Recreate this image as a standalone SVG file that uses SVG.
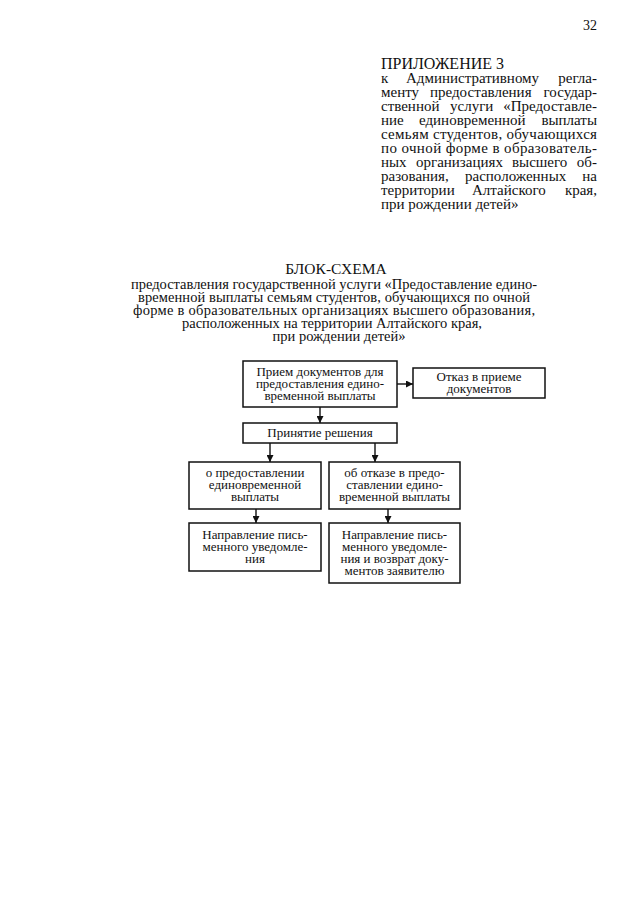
<svg xmlns="http://www.w3.org/2000/svg" width="640" height="905" viewBox="0 0 640 905">
<defs>
<style>
text{font-family:"Liberation Serif","Times New Roman",serif;fill:#111}
.hd{font-size:15px}
.tt{font-size:14.5px;text-anchor:middle}
.bx{font-size:13px;text-anchor:middle}
.box{fill:#fff;stroke:#111;stroke-width:1.5}
.ln{stroke:#111;stroke-width:1.4;fill:none}
</style>
<marker id="ah" viewBox="0 0 8 8" refX="8" refY="4" markerWidth="7" markerHeight="7" markerUnits="userSpaceOnUse" orient="auto">
<path d="M0,0 L8,4 L0,8 Z" fill="#111"/>
</marker>
</defs>
<rect width="640" height="905" fill="#fff"/>

<g id="header">
<text x="597" y="30" class="hd" style="font-size:14px" text-anchor="end">32</text>
<text x="381" y="69" class="hd" style="font-size:16px">ПРИЛОЖЕНИЕ 3</text>
<text x="381" y="83" class="hd">к</text>
<text x="406" y="83" class="hd">Административному</text>
<text x="597" y="83" class="hd" text-anchor="end">регла-</text>
<text x="381" y="97" class="hd">менту</text>
<text x="430" y="97" class="hd">предоставления</text>
<text x="597" y="97" class="hd" text-anchor="end">государ-</text>
<text x="381" y="111" class="hd">ственной</text>
<text x="450" y="111" class="hd">услуги</text>
<text x="597" y="111" class="hd" text-anchor="end">«Предоставле-</text>
<text x="381" y="125" class="hd">ние</text>
<text x="419" y="125" class="hd">единовременной</text>
<text x="597" y="125" class="hd" text-anchor="end">выплаты</text>
<text x="381" y="139" class="hd" textLength="216" lengthAdjust="spacing">семьям студентов, обучающихся</text>
<text x="381" y="153" class="hd" textLength="216" lengthAdjust="spacing">по очной форме в образователь-</text>
<text x="381" y="167" class="hd">ных</text>
<text x="416" y="167" class="hd">организациях</text>
<text x="512" y="167" class="hd">высшего</text>
<text x="597" y="167" class="hd" text-anchor="end">об-</text>
<text x="381" y="181" class="hd">разования,</text>
<text x="465" y="181" class="hd">расположенных</text>
<text x="597" y="181" class="hd" text-anchor="end">на</text>
<text x="381" y="195" class="hd">территории</text>
<text x="472" y="195" class="hd">Алтайского</text>
<text x="597" y="195" class="hd" text-anchor="end">края,</text>
<text x="381" y="209" class="hd">при рождении детей»</text>
</g>

<g id="title">
<text x="336" y="274" class="tt" style="font-size:15.5px">БЛОК-СХЕМА</text>
<text x="334" y="289" class="tt" textLength="406" lengthAdjust="spacing">предоставления государственной услуги «Предоставление едино-</text>
<text x="334" y="302" class="tt" textLength="392" lengthAdjust="spacing">временной выплаты семьям студентов, обучающихся по очной</text>
<text x="334" y="315" class="tt" textLength="402" lengthAdjust="spacing">форме в образовательных организациях высшего образования,</text>
<text x="332" y="328" class="tt">расположенных на территории Алтайского края,</text>
<text x="339" y="341" class="tt">при рождении детей»</text>
</g>

<g id="connectors">
<line class="ln" x1="397" y1="384" x2="413" y2="384" marker-end="url(#ah)"/>
<line class="ln" x1="320" y1="407" x2="320" y2="423" marker-end="url(#ah)"/>
<line class="ln" x1="270" y1="443" x2="270" y2="462" marker-end="url(#ah)"/>
<line class="ln" x1="375" y1="443" x2="375" y2="462" marker-end="url(#ah)"/>
<line class="ln" x1="256" y1="509" x2="256" y2="523" marker-end="url(#ah)"/>
<line class="ln" x1="388" y1="509" x2="388" y2="523" marker-end="url(#ah)"/>
</g>

<g id="n-priem">
<rect class="box" x="243" y="361" width="154" height="46"/>
<text class="bx" x="320" y="376">Прием документов для</text>
<text class="bx" x="320" y="388">предоставления едино-</text>
<text class="bx" x="320" y="400">временной выплаты</text>
</g>
<g id="n-otkaz-priem">
<rect class="box" x="413" y="368" width="132" height="30"/>
<text class="bx" x="479" y="381">Отказ в приеме</text>
<text class="bx" x="479" y="393">документов</text>
</g>
<g id="n-reshenie">
<rect class="box" x="243" y="423" width="154" height="20"/>
<text class="bx" x="320" y="437">Принятие решения</text>
</g>
<g id="n-predost">
<rect class="box" x="189" y="462" width="132" height="47"/>
<text class="bx" x="255" y="477">о предоставлении</text>
<text class="bx" x="255" y="489">единовременной</text>
<text class="bx" x="255" y="501">выплаты</text>
</g>
<g id="n-otkaz">
<rect class="box" x="329" y="462" width="131" height="47"/>
<text class="bx" x="394.5" y="477">об отказе в предо-</text>
<text class="bx" x="394.5" y="489">ставлении едино-</text>
<text class="bx" x="394.5" y="501">временной выплаты</text>
</g>
<g id="n-uved1">
<rect class="box" x="189" y="523" width="132" height="48"/>
<text class="bx" x="255" y="539">Направление пись-</text>
<text class="bx" x="255" y="551">менного уведомле-</text>
<text class="bx" x="255" y="563">ния</text>
</g>
<g id="n-uved2">
<rect class="box" x="329" y="523" width="131" height="60"/>
<text class="bx" x="394.5" y="539">Направление пись-</text>
<text class="bx" x="394.5" y="551">менного уведомле-</text>
<text class="bx" x="394.5" y="563">ния и возврат доку-</text>
<text class="bx" x="394.5" y="575">ментов заявителю</text>
</g>
</svg>
